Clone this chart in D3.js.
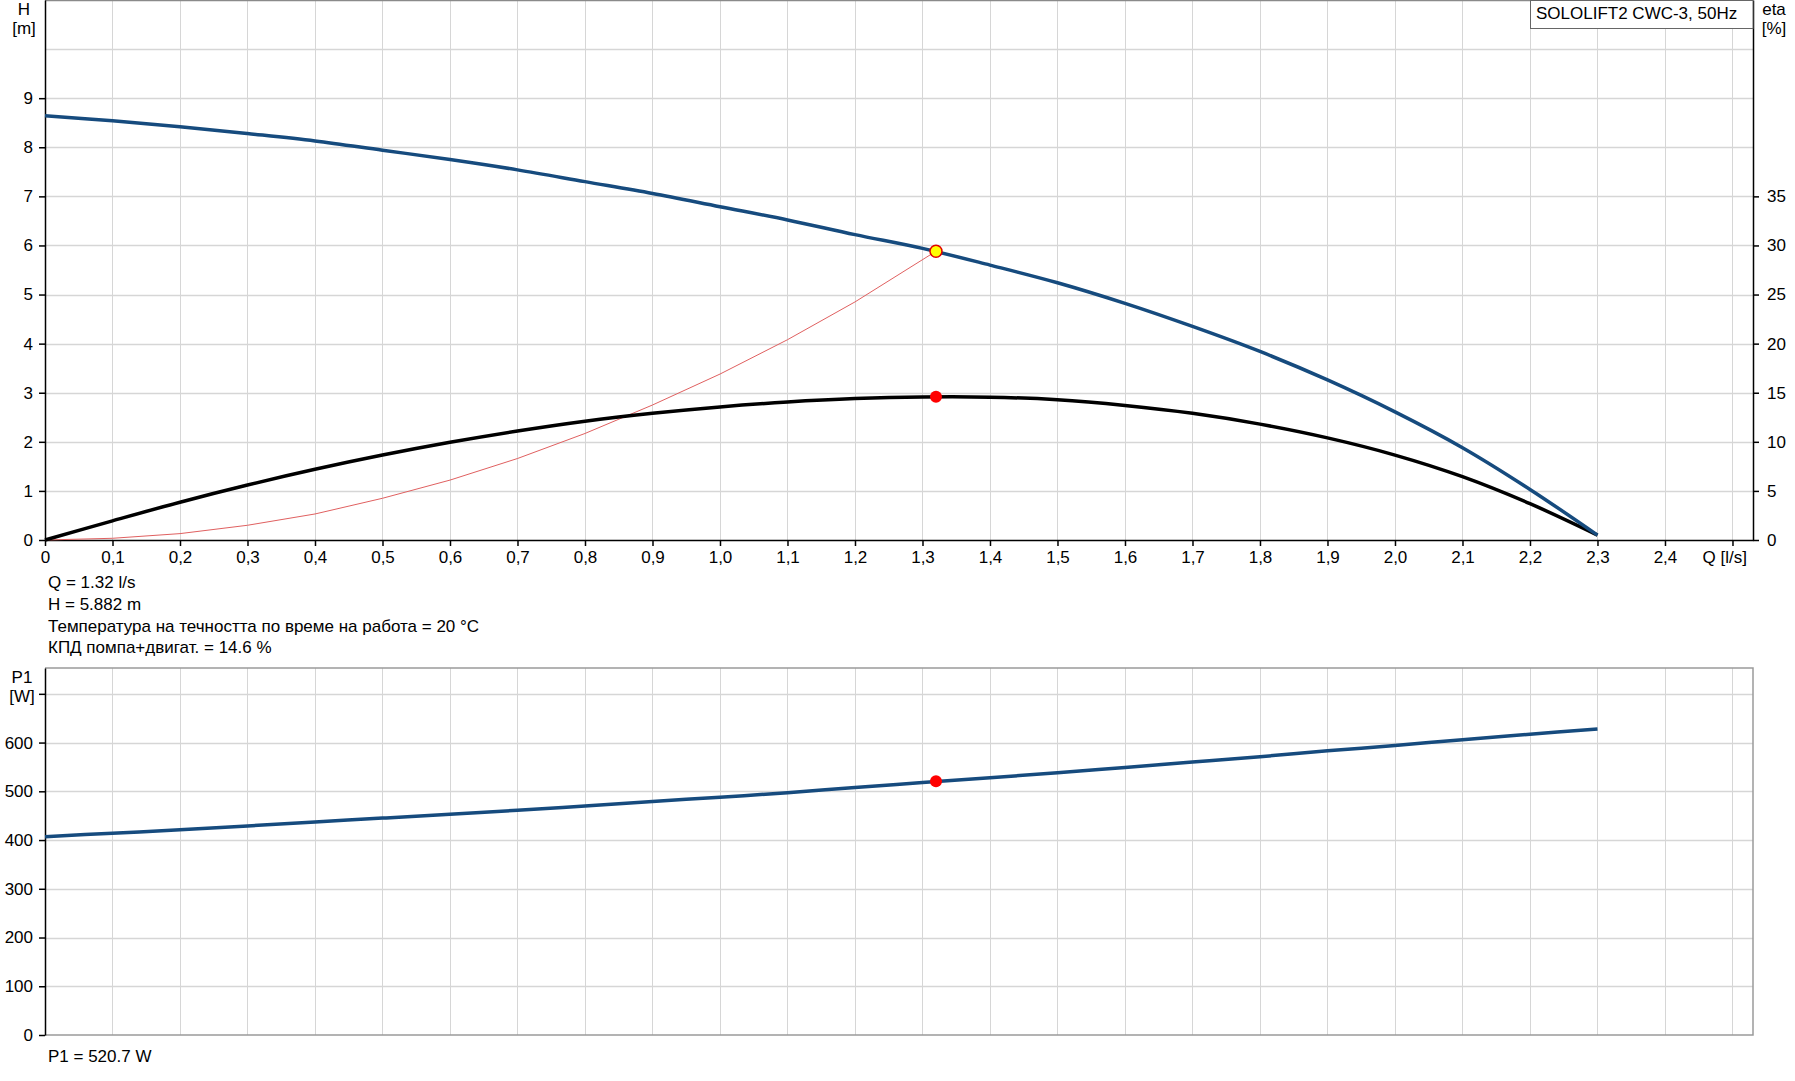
<!DOCTYPE html>
<html>
<head>
<meta charset="utf-8">
<script src="https://cdn.jsdelivr.net/npm/d3@7"></script>
<style>
  html, body { margin: 0; padding: 0; background: #fff; }
  svg { display: block; font-family: "Liberation Sans", Arial, sans-serif; }
  text { fill: #000; }
</style>
</head>
<body>
<svg id="chart" width="1795" height="1081"></svg>
<script>
// ---------- DATA ----------
const headQ = [0, 0.1, 0.2, 0.3, 0.4, 0.5, 0.6, 0.7, 0.8, 0.9, 1.0, 1.1, 1.2, 1.3, 1.4, 1.5, 1.6, 1.7, 1.8, 1.9, 2.0, 2.1, 2.2, 2.3];
const headH = [8.64, 8.54, 8.42, 8.28, 8.13, 7.94, 7.75, 7.54, 7.30, 7.06, 6.79, 6.52, 6.22, 5.94, 5.60, 5.24, 4.82, 4.35, 3.84, 3.26, 2.61, 1.88, 1.03, 0.10];
const etaQ = [0, 0.1, 0.2, 0.3, 0.4, 0.5, 0.6, 0.7, 0.8, 0.9, 1.0, 1.1, 1.2, 1.3, 1.4, 1.5, 1.6, 1.7, 1.8, 1.9, 2.0, 2.1, 2.2, 2.3];
const etaVal = [0, 1.95, 3.85, 5.6, 7.2, 8.65, 9.95, 11.1, 12.1, 12.9, 13.55, 14.05, 14.4, 14.57, 14.55, 14.28, 13.7, 12.9, 11.8, 10.4, 8.65, 6.45, 3.7, 0.5];
const sysQ = [0, 0.1, 0.2, 0.3, 0.4, 0.5, 0.6, 0.7, 0.8, 0.9, 1.0, 1.1, 1.2, 1.32];
const sysH = [0, 0.035, 0.13, 0.30, 0.53, 0.85, 1.22, 1.66, 2.17, 2.75, 3.38, 4.08, 4.85, 5.882];
const p1Q = [0, 0.1, 0.2, 0.3, 0.4, 0.5, 0.6, 0.7, 0.8, 0.9, 1.0, 1.1, 1.2, 1.3, 1.4, 1.5, 1.6, 1.7, 1.8, 1.9, 2.0, 2.1, 2.2, 2.3];
const p1W = [407, 414, 421, 429, 437, 445, 453, 461, 470, 479, 488, 497, 508, 518, 528, 538, 549, 560, 571, 583, 594, 606, 617, 628];
const dutyQ = 1.32, dutyH = 5.882, dutyEta = 14.6, dutyP1 = 520.7;

const qTicks = [0, 0.1, 0.2, 0.3, 0.4, 0.5, 0.6, 0.7, 0.8, 0.9, 1.0, 1.1, 1.2, 1.3, 1.4, 1.5, 1.6, 1.7, 1.8, 1.9, 2.0, 2.1, 2.2, 2.3, 2.4, 2.5];
const hTicks = [0, 1, 2, 3, 4, 5, 6, 7, 8, 9];
const hGrid = [1, 2, 3, 4, 5, 6, 7, 8, 9, 10];
const etaTicks = [0, 5, 10, 15, 20, 25, 30, 35];
const pTicks = [0, 100, 200, 300, 400, 500, 600, 700];

const title = "SOLOLIFT2 CWC-3, 50Hz";
const infoLines = ["Q = 1.32 l/s", "H = 5.882 m", "Температура на течността по време на работа = 20 °C", "КПД помпа+двигат. = 14.6 %"];
const p1Info = "P1 = 520.7 W";

// ---------- SCALES ----------
const svg = d3.select("#chart");
const X0 = 45, X1 = 1753;
const x = d3.scaleLinear().domain([0, 2.5304]).range([X0, X1]);
const yH = d3.scaleLinear().domain([0, 11]).range([540, 0]);
const yEta = d3.scaleLinear().domain([0, 55]).range([540, 0]);
const yP = d3.scaleLinear().domain([0, 753]).range([1035, 668]);

const BLUE = "#164b7e";
const GRID = "#d6d6d6";
const FS = 17;

// ---------- GRIDS ----------
const g = svg.append("g");
g.selectAll(".vgT").data(qTicks.filter(d => d > 0)).enter().append("line")
  .attr("x1", d => Math.round(x(d)) + 0.5).attr("x2", d => Math.round(x(d)) + 0.5)
  .attr("y1", 0).attr("y2", yH(0)).attr("stroke", GRID).attr("stroke-width", 1);
g.selectAll(".hgT").data(hGrid).enter().append("line")
  .attr("x1", X0).attr("x2", X1)
  .attr("y1", d => Math.round(yH(d)) + 0.5).attr("y2", d => Math.round(yH(d)) + 0.5)
  .attr("stroke", GRID).attr("stroke-width", 1.5);
g.selectAll(".vgB").data(qTicks.filter(d => d > 0)).enter().append("line")
  .attr("x1", d => Math.round(x(d)) + 0.5).attr("x2", d => Math.round(x(d)) + 0.5)
  .attr("y1", yP.range()[1]).attr("y2", yP(0)).attr("stroke", GRID).attr("stroke-width", 1);
g.selectAll(".hgB").data(pTicks.filter(d => d > 0)).enter().append("line")
  .attr("x1", X0).attr("x2", X1)
  .attr("y1", d => Math.round(yP(d)) + 0.5).attr("y2", d => Math.round(yP(d)) + 0.5)
  .attr("stroke", GRID).attr("stroke-width", 1.5);

// borders (gray)
svg.append("line").attr("x1", X0).attr("x2", X1).attr("y1", 0.5).attr("y2", 0.5).attr("stroke", "#8a8a8a").attr("stroke-width", 1.5);
svg.append("path")
  .attr("d", `M${X0},${yP.range()[1]}H${X1}V${yP(0)}H${X0}`)
  .attr("fill", "none").attr("stroke", "#9a9a9a").attr("stroke-width", 1.5);

// ---------- AXES ----------
function styleAxis(sel) {
  sel.selectAll("path.domain").attr("stroke", "#000").attr("stroke-width", 1.5);
  sel.selectAll(".tick line").attr("stroke", "#000").attr("stroke-width", 1.5);
  sel.selectAll("text").attr("font-size", FS).attr("font-family", "'Liberation Sans', Arial, sans-serif").attr("fill", "#000");
}
const fmtQ = d => d === 0 ? "0" : (d >= 2.45 ? "" : d.toFixed(1).replace(".", ","));

svg.append("g").attr("transform", `translate(${X0},0)`)
  .call(d3.axisLeft(yH).tickValues(hTicks).tickSize(6).tickSizeOuter(0).tickPadding(6))
  .call(styleAxis);
svg.append("g").attr("transform", `translate(${X1},0)`)
  .call(d3.axisRight(yEta).tickValues(etaTicks).tickSize(6).tickSizeOuter(0).tickPadding(8))
  .call(styleAxis);
svg.append("g").attr("transform", `translate(0,${yH(0)})`)
  .call(d3.axisBottom(x).tickValues(qTicks).tickFormat(fmtQ).tickSize(6).tickSizeOuter(0).tickPadding(5))
  .call(styleAxis);
svg.append("g").attr("transform", `translate(${X0},0)`)
  .call(d3.axisLeft(yP).tickValues(pTicks).tickFormat(d => d === 700 ? "" : d).tickSize(6).tickSizeOuter(0).tickPadding(6))
  .call(styleAxis);

// ---------- CURVES ----------
const smooth = d3.curveCatmullRom.alpha(0.5);
const lineH = d3.line().x((d, i) => x(headQ[i])).y(d => yH(d)).curve(smooth);
const lineEta = d3.line().x((d, i) => x(etaQ[i])).y(d => yEta(d)).curve(smooth);
const lineSys = d3.line().x((d, i) => x(sysQ[i])).y(d => yH(d)).curve(d3.curveLinear);
const lineP = d3.line().x((d, i) => x(p1Q[i])).y(d => yP(d)).curve(smooth);

svg.append("path").attr("d", lineSys(sysH)).attr("fill", "none").attr("stroke", "#e06060").attr("stroke-width", 1);
svg.append("path").attr("d", lineEta(etaVal)).attr("fill", "none").attr("stroke", "#000").attr("stroke-width", 3.5);
svg.append("path").attr("d", lineH(headH)).attr("fill", "none").attr("stroke", BLUE).attr("stroke-width", 3.5);
svg.append("path").attr("d", lineP(p1W)).attr("fill", "none").attr("stroke", BLUE).attr("stroke-width", 3.5);

// duty points
svg.append("circle").attr("cx", x(dutyQ)).attr("cy", yH(dutyH)).attr("r", 6)
  .attr("fill", "#ffff00").attr("stroke", "#e00000").attr("stroke-width", 1.5);
svg.append("circle").attr("cx", x(dutyQ)).attr("cy", yEta(dutyEta)).attr("r", 6).attr("fill", "#ff0000");
svg.append("circle").attr("cx", x(dutyQ)).attr("cy", yP(dutyP1)).attr("r", 6).attr("fill", "#ff0000");

// ---------- TEXTS ----------
const T = (tx, ty, s, anchor) => svg.append("text").attr("x", tx).attr("y", ty)
  .attr("font-size", FS).attr("text-anchor", anchor || "start").text(s);

T(24, 15, "H", "middle");
T(24, 34, "[m]", "middle");
T(1774, 15, "eta", "middle");
T(1774, 34, "[%]", "middle");
T(22, 683, "P1", "middle");
T(22, 702, "[W]", "middle");
T(1747, 563, "Q [l/s]", "end");

svg.append("rect").attr("x", 1530.5).attr("y", 0.5).attr("width", X1 - 1530.5).attr("height", 28)
  .attr("fill", "#fff").attr("stroke", "#666").attr("stroke-width", 1);
T(1536, 19, title);

infoLines.forEach((s, i) => T(48, 588 + i * 21.8, s));
T(48, 1062, p1Info);
</script>
</body>
</html>
